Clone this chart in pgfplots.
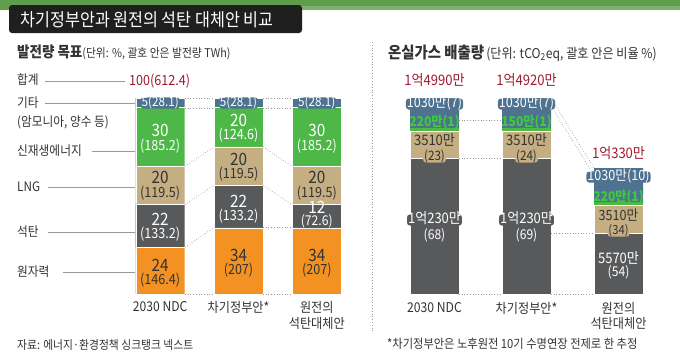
\documentclass[border=0pt]{standalone}
\usepackage{pgfplots}
\pgfplotsset{compat=1.18}
\usepackage{fontspec}
\setmainfont{Noto Sans CJK KR}[FakeStretch=0.9]
\definecolor{cNuc}{HTML}{F39222}
\definecolor{cCoal}{HTML}{58595B}
\definecolor{cLNG}{HTML}{C4AE82}
\definecolor{cRen}{HTML}{4DB848}
\definecolor{cOth}{HTML}{4E7290}
\definecolor{cRed}{HTML}{9E1B32}
\definecolor{cTxt}{HTML}{333333}
\definecolor{cGrass}{HTML}{5E9E4A}
\definecolor{cGreenTxt}{HTML}{3CCB3A}
\definecolor{cLine}{HTML}{9A9A9A}
\newcommand{\fs}[1]{\fontsize{#1}{#1}\selectfont}
% label on a rounded patch of the bar colour: pos, size, patch colour, text colour, text
\newcommand{\btext}[5]{%
  \node[fill=#3, rounded corners=3pt, inner sep=1pt, text height=0.8em, text depth=0.12em,
        text=#4, font=\fs{#2}] at (#1) {#5};}
\begin{document}
\begin{tikzpicture}
\path[use as bounding box] (0,0) rectangle (680pt,-360pt);
\fill[white] (0,0) rectangle (680pt,-360pt);
% left axis: generation targets (TWh)
\begin{axis}[at={(121pt,-294pt)}, anchor=south west, scale only axis,
  width=235pt, height=196pt, xmin=-0.5, xmax=2.5, ymin=0, ymax=612.4,
  hide axis, ybar stacked, bar width=49pt, clip=false]
\addplot[fill=cNuc, draw=white, line width=0.3pt] coordinates {(0,146.4) (1,207) (2,207)};
\addplot[fill=cCoal, draw=white, line width=0.3pt] coordinates {(0,133.2) (1,133.2) (2,72.6)};
\addplot[fill=cLNG, draw=white, line width=0.3pt] coordinates {(0,119.5) (1,119.5) (2,119.5)};
\addplot[fill=cRen, draw=white, line width=0.3pt] coordinates {(0,185.2) (1,124.6) (2,185.2)};
\addplot[fill=cOth, draw=white, line width=0.3pt] coordinates {(0,28.1) (1,28.1) (2,28.1)};
\end{axis}
% right axis: emissions (bar heights as drawn)
\begin{axis}[at={(388.5pt,-294pt)}, anchor=south west, scale only axis,
  width=276pt, height=196pt, xmin=-0.5, xmax=2.5, ymin=0, ymax=196,
  hide axis, ybar stacked, bar width=49pt, clip=false]
\addplot[fill=cCoal, draw=white, line width=0.3pt] coordinates {(0,136) (1,136) (2,61)};
\addplot[fill=cLNG, draw=white, line width=0.3pt] coordinates {(0,27) (1,27) (2,28)};
\addplot[fill=cRen, draw=none] coordinates {(0,3) (1,3) (2,3)};
\addplot[fill=cOth, draw=none] coordinates {(0,30) (1,30) (2,34)};
\end{axis}
\begin{scope}[x=1pt,y=-1pt]
% grass strip and title
\fill[cGrass] (0,0) rectangle (680,10);
\fill[cGrass!80!white] (300,6) rectangle (680,10);
\fill[black!88, rounded corners=3pt] (9,5) rectangle (302,33);
\node[anchor=west, text=white, font=\fs{18}] at (17,19.5) {차기정부안과 원전의 석탄 대체안 비교};
% subtitles
\node[anchor=west, text=cTxt, inner sep=0pt] at (17,52) {{\bfseries\fs{15}발전량 목표}{\fs{12}(단위: \%, 괄호 안은 발전량 TWh)}};
\node[anchor=west, text=cTxt, inner sep=0pt] at (388,53) {{\bfseries\fs{16}온실가스 배출량} {\fs{13.5}(단위: tCO\textsubscript{2}eq, 괄호 안은 비율 \%)}};
% separator
\draw[cLine, dotted, line width=0.8pt] (372,42) -- (372,332);
% left legend
\begin{scope}[every node/.style={anchor=west, text=cTxt, font=\fs{13}, inner sep=0pt}]
\node at (17,80) {합계};
\node at (17,103) {기타};
\node at (17,122) {(암모니아, 양수 등)};
\node at (17,151) {신재생에너지};
\node at (17,187) {LNG};
\node at (17,232) {석탄};
\node at (17,272) {원자력};
\end{scope}
\draw[cLine, line width=0.8pt] (45,81) -- (125,81);
\draw[cLine, line width=0.8pt] (45,103) -- (135,103);
\draw[cLine, line width=0.8pt] (92,151) -- (135,151);
\draw[cLine, line width=0.8pt] (48,187) -- (135,187);
\draw[cLine, line width=0.8pt] (48,232) -- (135,232);
\draw[cLine, line width=0.8pt] (63,272) -- (135,272);
\node[anchor=west, text=cRed, font=\fs{14}, inner sep=0pt] at (129,81) {100(612.4)};
% left connectors
\begin{scope}[cLine, dotted, line width=0.7pt]
\draw (185,98) -- (214,98); \draw (185,108) -- (214,108);
\draw (263,98) -- (292,98); \draw (263,108) -- (292,108);
\draw (185,166.3) -- (214,146.9); \draw (185,204.5) -- (214,185.1);
\draw (185,247.1) -- (214,227.7); \draw (185,294) -- (214,294);
\draw (263,146.9) -- (292,166.3); \draw (263,185.1) -- (292,204.5);
\draw (263,227.7) -- (292,227.7); \draw (263,294) -- (292,294);
% right connectors
\draw (459,120) -- (502,120); \draw (459,158) -- (502,158);
\draw (459,294) -- (502,294);
\draw (551,98) -- (594,168); \draw (551,106) -- (594,175);
\draw (551,233) -- (594,233); \draw (551,294) -- (594,294);
\end{scope}
% left bar labels
\begin{scope}[every node/.style={inner sep=0pt}]
\node[text=white, font=\fs{17}] at (160.2,130) {30};
\node[text=white, font=\fs{14}] at (160.2,146) {(185.2)};
\node[text=cTxt, font=\fs{17}] at (160.2,177) {20};
\node[text=cTxt, font=\fs{14}] at (160.2,193) {(119.5)};
\node[text=white, font=\fs{17}] at (160.2,219) {22};
\node[text=white, font=\fs{14}] at (160.2,234) {(133.2)};
\node[text=cTxt, font=\fs{17}] at (160.2,265) {24};
\node[text=cTxt, font=\fs{14}] at (160.2,280) {(146.4)};
\node[text=white, font=\fs{17}] at (238.5,120) {20};
\node[text=white, font=\fs{14}] at (238.5,135) {(124.6)};
\node[text=cTxt, font=\fs{17}] at (238.5,159) {20};
\node[text=cTxt, font=\fs{14}] at (238.5,174) {(119.5)};
\node[text=white, font=\fs{17}] at (238.5,201) {22};
\node[text=white, font=\fs{14}] at (238.5,216) {(133.2)};
\node[text=cTxt, font=\fs{17}] at (238.5,255) {34};
\node[text=cTxt, font=\fs{14}] at (238.5,270) {(207)};
\node[text=white, font=\fs{17}] at (316.8,130) {30};
\node[text=white, font=\fs{14}] at (316.8,146) {(185.2)};
\node[text=cTxt, font=\fs{17}] at (316.8,177) {20};
\node[text=cTxt, font=\fs{14}] at (316.8,193) {(119.5)};
\node[text=white, font=\fs{17}] at (316.8,207) {12};
\node[text=cTxt, font=\fs{17}] at (316.8,255) {34};
\node[text=cTxt, font=\fs{14}] at (316.8,270) {(207)};
% category labels
\node[text=cTxt, font=\fs{13.5}] at (160.2,307) {2030 NDC};
\node[text=cTxt, font=\fs{13.5}] at (238.5,307) {차기정부안*};
\node[text=cTxt, font=\fs{13.5}] at (316.8,307) {원전의};
\node[text=cTxt, font=\fs{13.5}] at (316.8,323) {석탄대체안};
\node[text=cTxt, font=\fs{13.5}] at (434.5,308) {2030 NDC};
\node[text=cTxt, font=\fs{13.5}] at (526.5,308) {차기정부안*};
\node[text=cTxt, font=\fs{13.5}] at (618.5,308) {원전의};
\node[text=cTxt, font=\fs{13.5}] at (618.5,323) {석탄대체안};
% right totals
\node[text=cRed, font=\fs{14.5}] at (434.5,80) {1억4990만};
\node[text=cRed, font=\fs{14.5}] at (526.5,80) {1억4920만};
\node[text=cRed, font=\fs{14.5}] at (618.5,153) {1억330만};
% right inner labels
\node[text=cTxt, font=\fs{14.5}] at (434.5,140) {3510만};
\node[text=cTxt, font=\fs{14.5}] at (526.5,140) {3510만};
\node[text=cTxt, font=\fs{14}] at (618.5,215) {3510만};
\node[text=white, font=\fs{13.5}] at (434.5,235) {(68)};
\node[text=white, font=\fs{13.5}] at (526.5,235) {(69)};
\node[text=white, font=\fs{14.5}] at (618.5,258) {5570만};
\node[text=white, font=\fs{13.5}] at (618.5,272) {(54)};
\node[text=cGreenTxt, font=\bfseries\fs{13.5}] at (434.5,122) {220만(1)};
\node[text=cGreenTxt, font=\bfseries\fs{13.5}] at (526.5,122) {150만(1)};
\node[text=cGreenTxt, font=\bfseries\fs{13.5}] at (618.5,197) {220만(1)};
% footers
\node[anchor=west, text=cTxt, font=\fs{12}] at (17,345) {자료: 에너지·환경정책 싱크탱크 넥스트};
\node[anchor=west, text=cTxt, font=\fs{12.5}] at (387,344) {*차기정부안은 노후원전 10기 수명연장 전제로 한 추정};
\end{scope}
% labels on patches of bar colour
\btext{160.2,103}{13}{cOth}{white}{5(28.1)}
\btext{238.5,103}{13}{cOth}{white}{5(28.1)}
\btext{316.8,103}{13}{cOth}{white}{5(28.1)}
\btext{316.8,222.5}{13.5}{cCoal}{white}{(72.6)}
\btext{434.5,104}{14}{cOth}{white}{1030만(7)}
\btext{526.5,104}{14}{cOth}{white}{1030만(7)}
\btext{618.5,177}{14}{cOth}{white}{1030만(10)}
\btext{434.5,157}{13}{cLNG}{cTxt}{(23)}
\btext{526.5,157}{13}{cLNG}{cTxt}{(24)}
\btext{618.5,231}{12.5}{cLNG}{cTxt}{(34)}
\btext{434.5,220}{14.5}{cCoal}{white}{1억230만}
\btext{526.5,220}{14.5}{cCoal}{white}{1억230만}
\end{scope}
\end{tikzpicture}
\end{document}
